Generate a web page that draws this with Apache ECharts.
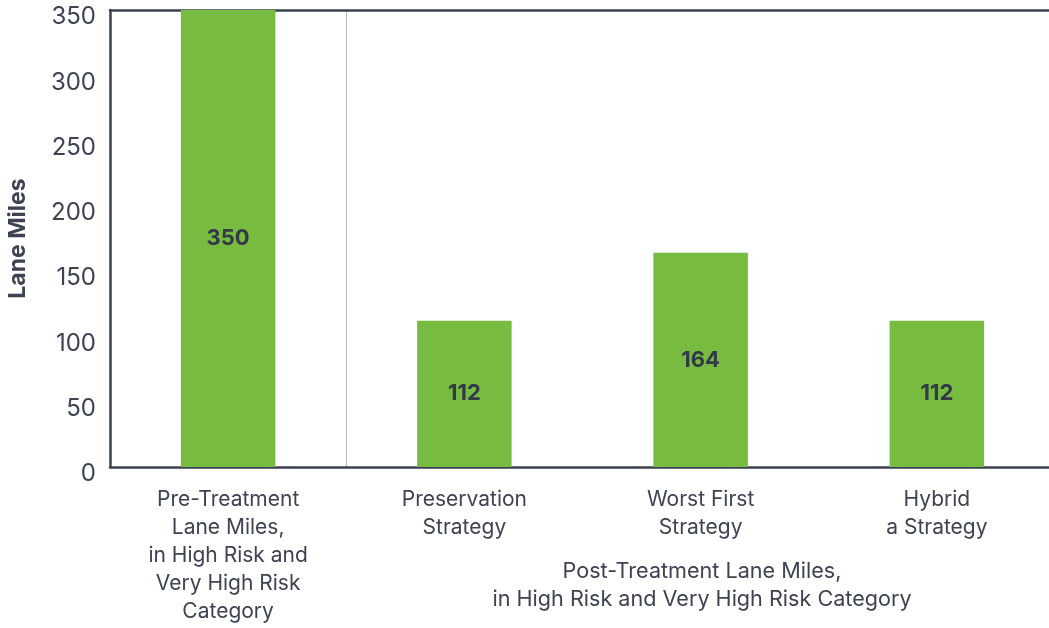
<!DOCTYPE html>
<html>
<head>
<meta charset="utf-8">
<script src="https://cdn.jsdelivr.net/npm/echarts@6/dist/echarts.min.js"></script>
<style>
html,body{margin:0;padding:0;background:#fff;}
#chart{width:1049px;height:628px;}
</style>
</head>
<body>
<div id="chart"></div>
<script>
const categories = [
  "Pre-Treatment\nLane Miles,\nin High Risk and\nVery High Risk\nCategory",
  "Preservation\nStrategy",
  "Worst First\nStrategy",
  "Hybrid\na Strategy"
];
const laneMiles = [350, 112, 164, 112];
const yTicks = { min: 0, max: 350, interval: 50 };
const yAxisTitle = "Lane Miles";
const groupNote = "Post-Treatment Lane Miles,\nin High Risk and Very High Risk Category";

const FONT = "Inter";
const TXT = "#3d4351";
const AXIS = "#3b4150";
const GREEN = "#77bb41";
const NONE = "rgba(0,0,0,0)";

const chart = echarts.init(document.getElementById('chart'));
chart.setOption({
  animation: false,
  textStyle: { fontFamily: FONT },
  title: {
    text: groupNote,
    left: 697,
    top: 552,
    textAlign: 'center',
    textStyle: { fontFamily: FONT, fontSize: 21.6, fontWeight: 'normal', color: TXT, lineHeight: 28 }
  },
  grid: { left: 110, top: 10, right: -6, bottom: 161, containLabel: false, outerBoundsMode: 'none' },
  xAxis: [{
    type: 'category',
    data: categories,
    position: 'bottom',
    axisLine: { show: true, lineStyle: { color: AXIS, width: 2.5 } },
    axisTick: { show: false },
    axisLabel: { color: TXT, fontSize: 21, lineHeight: 28, margin: 19, fontFamily: FONT, interval: 0 },
    splitLine: { show: true, interval: 0, lineStyle: { color: [NONE, '#b8b8b8', NONE, NONE, NONE], width: 1 } }
  }, {
    type: 'category',
    data: categories,
    position: 'top',
    axisLine: { show: true, lineStyle: { color: AXIS, width: 2.5 } },
    axisTick: { show: false },
    axisLabel: { show: false },
    splitLine: { show: false }
  }],
  yAxis: {
    type: 'value',
    min: yTicks.min, max: yTicks.max, interval: yTicks.interval,
    name: yAxisTitle,
    nameLocation: 'middle',
    nameGap: 80,
    nameTextStyle: { fontFamily: FONT, fontSize: 23, fontWeight: 'bold', color: TXT },
    axisLine: { show: true, lineStyle: { color: AXIS, width: 2.5 } },
    axisTick: { show: false },
    axisLabel: { color: TXT, fontSize: 24, margin: 14, fontFamily: FONT, verticalAlign: 'top', lineHeight: 14 },
    splitLine: { show: false }
  },
  series: [{
    type: 'bar',
    data: laneMiles,
    barWidth: '40%',
    itemStyle: { color: GREEN },
    label: {
      show: true,
      position: 'inside',
      color: '#333a47',
      fontSize: 22,
      fontWeight: 'bold',
      fontFamily: FONT
    }
  }]
});
</script>
</body>
</html>
